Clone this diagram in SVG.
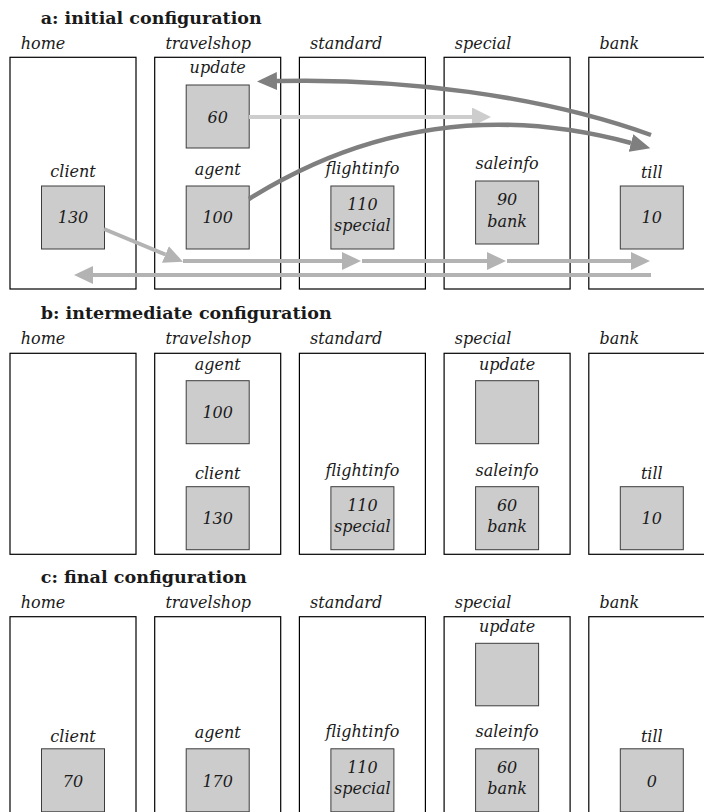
<svg xmlns="http://www.w3.org/2000/svg" width="704" height="812" viewBox="0 0 704 812">
<style>
.frame{fill:#fff;stroke:#000;stroke-width:1.2}
.box{fill:#ccc;stroke:#3c3c3c;stroke-width:1}
.lbl{font-family:"DejaVu Serif","Liberation Serif",serif;font-style:italic;font-size:16px;fill:#1a1a1a}
.mid{text-anchor:middle}
.title{font-family:"DejaVu Serif",serif;font-weight:bold;font-size:17px;fill:#1a1a1a}
.dark{stroke:#7f7f7f;stroke-width:4.5;fill:none}
.light{stroke:#b3b3b3;stroke-width:4;fill:none}
.pale{stroke:#cdcdcd;stroke-width:4;fill:none}
</style>
<defs>
<marker id="hd" markerUnits="userSpaceOnUse" markerWidth="20" markerHeight="18" viewBox="0 0 20 18" refX="0" refY="9" orient="auto"><path d="M0,0 L20,9 L0,18 Z" fill="#7f7f7f"/></marker>
<marker id="hl" markerUnits="userSpaceOnUse" markerWidth="19" markerHeight="18" viewBox="0 0 19 18" refX="0" refY="9" orient="auto"><path d="M0,0 L19,9 L0,18 Z" fill="#b3b3b3"/></marker>
<marker id="hp" markerUnits="userSpaceOnUse" markerWidth="19" markerHeight="19" viewBox="0 0 19 19" refX="0" refY="9.5" orient="auto"><path d="M0,0 L19,9.5 L0,19 Z" fill="#cdcdcd"/></marker>
</defs>
<rect width="704" height="812" fill="#fff"/>

<!-- Section a -->
<text class="title" x="40.7" y="24" textLength="221" lengthAdjust="spacingAndGlyphs">a: initial configuration</text>
<g id="a-home"><text class="lbl" x="20.7" y="49">home</text><rect class="frame" x="10" y="57.3" width="126" height="231.7"/></g>
<g id="a-travelshop"><text class="lbl" x="165.4" y="49">travelshop</text><rect class="frame" x="154.7" y="57.3" width="126" height="231.7"/></g>
<g id="a-standard"><text class="lbl" x="310.1" y="49">standard</text><rect class="frame" x="299.4" y="57.3" width="126" height="231.7"/></g>
<g id="a-special"><text class="lbl" x="454.8" y="49">special</text><rect class="frame" x="444.1" y="57.3" width="126" height="231.7"/></g>
<g id="a-bank"><text class="lbl" x="599.5" y="49">bank</text><rect class="frame" x="588.8" y="57.3" width="126" height="231.7"/></g>

<g id="a-update"><text class="lbl mid" x="217.7" y="73">update</text><rect class="box" x="186.2" y="85" width="63" height="63"/><text class="lbl mid" x="217.7" y="123">60</text></g>
<g id="a-client"><text class="lbl mid" x="73" y="177">client</text><rect class="box" x="41.5" y="186" width="63" height="63"/><text class="lbl mid" x="73" y="223">130</text></g>
<g id="a-agent"><text class="lbl mid" x="217.7" y="175">agent</text><rect class="box" x="186.2" y="186" width="63" height="63"/><text class="lbl mid" x="217.7" y="223">100</text></g>
<g id="a-flightinfo"><text class="lbl mid" x="362.4" y="174">flightinfo</text><rect class="box" x="330.9" y="186" width="63" height="63"/><text class="lbl mid" x="362.4" y="210">110</text><text class="lbl mid" x="362.4" y="231">special</text></g>
<g id="a-saleinfo"><text class="lbl mid" x="507.1" y="169">saleinfo</text><rect class="box" x="475.6" y="181" width="63" height="63"/><text class="lbl mid" x="507.1" y="205">90</text><text class="lbl mid" x="507.1" y="227">bank</text></g>
<g id="a-till"><text class="lbl mid" x="651.8" y="178">till</text><rect class="box" x="620.3" y="186" width="63" height="63"/><text class="lbl mid" x="651.8" y="223">10</text></g>

<!-- Section b -->
<text class="title" x="40.7" y="319.3" textLength="291" lengthAdjust="spacingAndGlyphs">b: intermediate configuration</text>
<g id="b-home"><text class="lbl" x="20.7" y="344.3">home</text><rect class="frame" x="10" y="353.3" width="126" height="201"/></g>
<g id="b-travelshop"><text class="lbl" x="165.4" y="344.3">travelshop</text><rect class="frame" x="154.7" y="353.3" width="126" height="201"/></g>
<g id="b-standard"><text class="lbl" x="310.1" y="344.3">standard</text><rect class="frame" x="299.4" y="353.3" width="126" height="201"/></g>
<g id="b-special"><text class="lbl" x="454.8" y="344.3">special</text><rect class="frame" x="444.1" y="353.3" width="126" height="201"/></g>
<g id="b-bank"><text class="lbl" x="599.5" y="344.3">bank</text><rect class="frame" x="588.8" y="353.3" width="126" height="201"/></g>

<g id="b-agent"><text class="lbl mid" x="217.7" y="370">agent</text><rect class="box" x="186.2" y="380.7" width="63" height="63"/><text class="lbl mid" x="217.7" y="418">100</text></g>
<g id="b-update"><text class="lbl mid" x="507.1" y="370">update</text><rect class="box" x="475.6" y="380.7" width="63" height="63"/></g>
<g id="b-client"><text class="lbl mid" x="217.7" y="479">client</text><rect class="box" x="186.2" y="486.7" width="63" height="63"/><text class="lbl mid" x="217.7" y="524">130</text></g>
<g id="b-flightinfo"><text class="lbl mid" x="362.4" y="475.5">flightinfo</text><rect class="box" x="330.9" y="486.7" width="63" height="63"/><text class="lbl mid" x="362.4" y="511">110</text><text class="lbl mid" x="362.4" y="532">special</text></g>
<g id="b-saleinfo"><text class="lbl mid" x="507.1" y="475.5">saleinfo</text><rect class="box" x="475.6" y="486.7" width="63" height="63"/><text class="lbl mid" x="507.1" y="511">60</text><text class="lbl mid" x="507.1" y="532">bank</text></g>
<g id="b-till"><text class="lbl mid" x="651.8" y="479">till</text><rect class="box" x="620.3" y="486.7" width="63" height="63"/><text class="lbl mid" x="651.8" y="524">10</text></g>

<!-- Section c -->
<text class="title" x="40.7" y="582.7" textLength="206" lengthAdjust="spacingAndGlyphs">c: final configuration</text>
<g id="c-home"><text class="lbl" x="20.7" y="607.7">home</text><rect class="frame" x="10" y="616.7" width="126" height="220"/></g>
<g id="c-travelshop"><text class="lbl" x="165.4" y="607.7">travelshop</text><rect class="frame" x="154.7" y="616.7" width="126" height="220"/></g>
<g id="c-standard"><text class="lbl" x="310.1" y="607.7">standard</text><rect class="frame" x="299.4" y="616.7" width="126" height="220"/></g>
<g id="c-special"><text class="lbl" x="454.8" y="607.7">special</text><rect class="frame" x="444.1" y="616.7" width="126" height="220"/></g>
<g id="c-bank"><text class="lbl" x="599.5" y="607.7">bank</text><rect class="frame" x="588.8" y="616.7" width="126" height="220"/></g>

<g id="c-update"><text class="lbl mid" x="507.1" y="631.7">update</text><rect class="box" x="475.6" y="643.3" width="63" height="62.5"/></g>
<g id="c-client"><text class="lbl mid" x="73" y="741.7">client</text><rect class="box" x="41.5" y="748.8" width="63" height="63"/><text class="lbl mid" x="73" y="786.5">70</text></g>
<g id="c-agent"><text class="lbl mid" x="217.7" y="738.3">agent</text><rect class="box" x="186.2" y="748.8" width="63" height="63"/><text class="lbl mid" x="217.7" y="786.5">170</text></g>
<g id="c-flightinfo"><text class="lbl mid" x="362.4" y="736.7">flightinfo</text><rect class="box" x="330.9" y="748.8" width="63" height="63"/><text class="lbl mid" x="362.4" y="773">110</text><text class="lbl mid" x="362.4" y="794">special</text></g>
<g id="c-saleinfo"><text class="lbl mid" x="507.1" y="736.7">saleinfo</text><rect class="box" x="475.6" y="748.8" width="63" height="63"/><text class="lbl mid" x="507.1" y="773">60</text><text class="lbl mid" x="507.1" y="794">bank</text></g>
<g id="c-till"><text class="lbl mid" x="651.8" y="741.7">till</text><rect class="box" x="620.3" y="748.8" width="63" height="63"/><text class="lbl mid" x="651.8" y="786.5">0</text></g>

<!-- Connectors -->
<g id="connectors">
<path class="dark" d="M651,135 C540,95 400,78 277,81" marker-end="url(#hd)"/>
<path class="pale" d="M249,117 L472,117" marker-end="url(#hp)"/>
<path class="dark" d="M249,199 C359,130 486,104 631,143" marker-end="url(#hd)"/>
<path class="light" d="M104,229 L165.4,254.5" marker-end="url(#hl)"/>
<path class="light" d="M183,261 L342,261" marker-end="url(#hl)"/>
<path class="light" d="M362,261 L487,261" marker-end="url(#hl)"/>
<path class="light" d="M507,261 L631,261" marker-end="url(#hl)"/>
<path class="light" d="M651,275 L93,275" marker-end="url(#hl)"/>
</g>
</svg>
